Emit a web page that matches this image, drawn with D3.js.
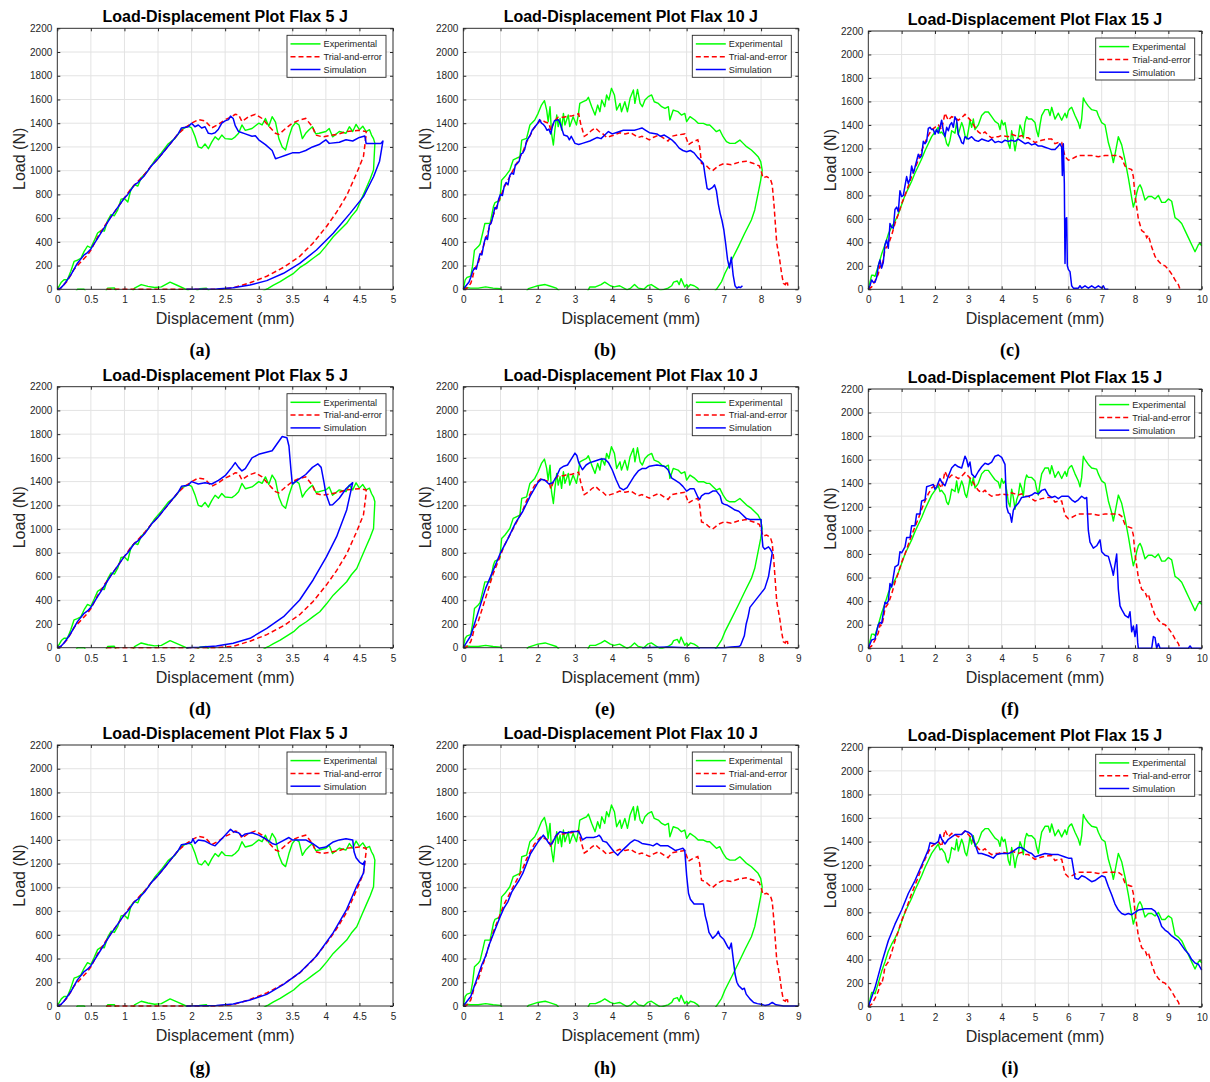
<!DOCTYPE html>
<html>
<head>
<meta charset="utf-8">
<script src="https://cdn.jsdelivr.net/npm/d3@7"></script>
<style>
  body { margin: 0; background: #fff; }
  svg { display: block; }
</style>
</head>
<body>
<script>
// ---- tick labels ----
var loadTicks = [0, 200, 400, 600, 800, 1000, 1200, 1400, 1600, 1800, 2000, 2200],
    dispTicks5  = [0, 0.5, 1, 1.5, 2, 2.5, 3, 3.5, 4, 4.5, 5],
    dispTicks10 = [0, 1, 2, 3, 4, 5, 6, 7, 8, 9],
    dispTicks15 = [0, 1, 2, 3, 4, 5, 6, 7, 8, 9, 10];

var seriesNames = ['Experimental', 'Trial-and-error', 'Simulation'];
var titles = ['Load-Displacement Plot Flax 5 J', 'Load-Displacement Plot Flax 10 J', 'Load-Displacement Plot Flax 15 J'];
var captions = ['(a)', '(b)', '(c)', '(d)', '(e)', '(f)', '(g)', '(h)', '(i)'];

// ---- series, [displacement mm, load N] ----
// 5 J
var exp5 = [[0,0],[0.03,30],[0.06,60],[0.1,80],[0.15,80],[0.2,150],[0.25,235],[0.3,245],[0.35,260],[0.4,320],[0.45,365],[0.5,350],[0.55,410],[0.6,475],[0.65,495],[0.7,490],[0.75,580],[0.8,630],[0.85,620],[0.9,670],[0.95,760],[1.0,765],[1.05,735],[1.1,850],[1.15,880],[1.2,870],[1.25,940],[1.3,970],[1.35,1000],[1.45,1085],[1.55,1150],[1.65,1225],[1.75,1270],[1.85,1345],[1.95,1375],[2.0,1360],[2.05,1290],[2.1,1200],[2.15,1190],[2.2,1225],[2.25,1185],[2.3,1240],[2.35,1285],[2.4,1260],[2.45,1300],[2.5,1270],[2.6,1265],[2.65,1285],[2.7,1315],[2.75,1385],[2.8,1340],[2.9,1355],[3.0,1400],[3.05,1385],[3.1,1440],[3.15,1375],[3.2,1455],[3.25,1410],[3.3,1270],[3.35,1200],[3.4,1175],[3.45,1285],[3.5,1370],[3.55,1405],[3.6,1385],[3.65,1270],[3.7,1315],[3.75,1345],[3.8,1370],[3.85,1310],[3.9,1315],[4.0,1330],[4.05,1355],[4.1,1285],[4.2,1330],[4.3,1315],[4.35,1370],[4.4,1330],[4.45,1390],[4.5,1345],[4.55,1375],[4.6,1330],[4.65,1345],[4.68,1300],[4.71,1270],[4.73,1230],[4.72,1120],[4.71,1005],[4.66,930],[4.61,865],[4.53,760],[4.46,668],[4.38,615],[4.31,556],[4.21,500],[4.11,443],[4.01,370],[3.91,303],[3.81,262],[3.71,219],[3.61,182],[3.52,135],[3.42,100],[3.32,64],[3.22,35],[3.14,8],[3.11,0],[3.0,-40],[2.3,-40],[2.22,10],[2.12,5],[2.02,-40],[1.92,0],[1.8,30],[1.68,60],[1.55,20],[1.45,15],[1.35,25],[1.25,40],[1.15,10],[1.1,-40],[0.9,-40],[0.85,12],[0.75,10],[0.7,-40],[0.45,-40],[0.4,0],[0.3,0],[0.25,-40]];
var trial5 = [[0,0],[0.05,10],[0.15,70],[0.25,170],[0.35,230],[0.45,290],[0.5,330],[0.6,440],[0.7,530],[0.8,610],[0.9,690],[1.0,770],[1.1,850],[1.2,910],[1.3,970],[1.4,1040],[1.5,1100],[1.6,1170],[1.7,1240],[1.8,1310],[1.9,1360],[2.0,1400],[2.1,1430],[2.2,1420],[2.3,1360],[2.4,1390],[2.5,1430],[2.6,1455],[2.65,1475],[2.7,1470],[2.75,1415],[2.85,1455],[2.95,1475],[3.05,1440],[3.15,1375],[3.25,1315],[3.3,1305],[3.4,1355],[3.5,1400],[3.6,1425],[3.7,1440],[3.8,1370],[3.85,1300],[3.95,1285],[4.1,1300],[4.2,1310],[4.3,1330],[4.5,1340],[4.6,1330],[4.6,1300],[4.56,1120],[4.46,980],[4.31,790],[4.16,650],[4.01,530],[3.81,390],[3.61,278],[3.37,185],[3.12,110],[2.87,55],[2.62,12],[2.37,0],[1.7,0],[1.2,0],[0.7,0]];
var sim5a = [[0,0],[0.05,10],[0.1,40],[0.2,120],[0.3,220],[0.4,290],[0.45,310],[0.5,340],[0.6,430],[0.7,520],[0.8,610],[0.9,690],[1.0,770],[1.05,800],[1.1,840],[1.15,880],[1.2,900],[1.3,960],[1.4,1040],[1.5,1100],[1.6,1170],[1.7,1240],[1.8,1310],[1.85,1360],[1.95,1370],[2.0,1400],[2.05,1370],[2.1,1385],[2.15,1360],[2.2,1370],[2.25,1315],[2.3,1310],[2.35,1320],[2.4,1350],[2.45,1400],[2.5,1420],[2.55,1430],[2.58,1460],[2.62,1440],[2.65,1380],[2.7,1330],[2.8,1310],[2.9,1290],[2.95,1295],[3.0,1260],[3.1,1220],[3.2,1170],[3.25,1100],[3.3,1110],[3.4,1130],[3.5,1150],[3.6,1150],[3.7,1170],[3.8,1200],[3.9,1220],[3.95,1240],[4.0,1260],[4.05,1230],[4.2,1240],[4.3,1260],[4.4,1250],[4.5,1280],[4.58,1292],[4.6,1230],[4.7,1230],[4.82,1230],[4.85,1250],[4.8,1080],[4.71,949],[4.56,781],[4.36,640],[4.11,472],[3.86,331],[3.61,219],[3.37,135],[3.12,73],[2.87,36],[2.62,14],[2.37,3],[1.92,0]];
var sim5d = [[0,0],[0.05,10],[0.1,40],[0.2,120],[0.3,220],[0.4,290],[0.45,310],[0.5,340],[0.6,430],[0.7,520],[0.8,610],[0.9,690],[1.0,770],[1.05,800],[1.1,840],[1.15,880],[1.2,900],[1.3,960],[1.4,1040],[1.5,1100],[1.6,1170],[1.7,1240],[1.8,1310],[1.85,1360],[1.95,1370],[2.0,1400],[2.1,1380],[2.2,1390],[2.3,1380],[2.4,1410],[2.5,1450],[2.6,1520],[2.65,1560],[2.7,1520],[2.75,1490],[2.8,1510],[2.9,1600],[3.0,1630],[3.1,1645],[3.2,1660],[3.3,1740],[3.35,1780],[3.42,1770],[3.45,1700],[3.48,1500],[3.5,1380],[3.55,1400],[3.6,1420],[3.7,1460],[3.8,1520],[3.88,1550],[3.93,1520],[3.97,1400],[4.0,1300],[4.06,1203],[4.1,1205],[4.2,1260],[4.3,1340],[4.4,1391],[4.31,1161],[4.16,936],[4.01,767],[3.81,571],[3.61,402],[3.37,261],[3.12,163],[2.87,79],[2.62,37],[2.37,14],[2.12,3],[1.92,0]];
var sim5g = [[0,0],[0.05,10],[0.1,40],[0.2,120],[0.3,220],[0.4,290],[0.45,310],[0.5,340],[0.6,430],[0.7,520],[0.8,610],[0.9,690],[1.0,770],[1.05,800],[1.1,840],[1.15,880],[1.2,900],[1.3,960],[1.4,1040],[1.5,1100],[1.6,1170],[1.7,1240],[1.8,1310],[1.85,1360],[1.95,1370],[2.0,1380],[2.02,1410],[2.05,1370],[2.1,1400],[2.2,1390],[2.3,1360],[2.35,1350],[2.4,1380],[2.5,1440],[2.58,1490],[2.62,1470],[2.7,1460],[2.75,1430],[2.8,1450],[2.9,1460],[3.0,1440],[3.1,1410],[3.2,1370],[3.25,1360],[3.35,1390],[3.45,1420],[3.5,1400],[3.6,1400],[3.7,1400],[3.8,1370],[3.9,1330],[4.0,1340],[4.1,1380],[4.2,1400],[4.3,1410],[4.4,1400],[4.42,1300],[4.45,1250],[4.51,1208],[4.55,1195],[4.58,1222],[4.56,1120],[4.46,1011],[4.31,815],[4.11,618],[3.86,421],[3.61,281],[3.37,183],[3.12,98],[2.87,51],[2.62,17],[2.37,5],[1.92,0]];

// 10 J
var exp10 = [[0,0],[0.05,80],[0.1,100],[0.2,110],[0.25,200],[0.3,330],[0.4,360],[0.45,380],[0.54,500],[0.58,555],[0.72,556],[0.81,697],[0.85,730],[0.98,750],[1.03,920],[1.12,950],[1.25,1005],[1.34,1090],[1.52,1118],[1.57,1258],[1.7,1272],[1.79,1385],[1.92,1427],[2.01,1483],[2.1,1553],[2.18,1590],[2.24,1511],[2.28,1413],[2.33,1539],[2.37,1315],[2.42,1216],[2.46,1343],[2.51,1469],[2.55,1371],[2.6,1441],[2.64,1343],[2.69,1483],[2.73,1385],[2.82,1469],[2.86,1371],[2.95,1455],[3.04,1385],[3.09,1469],[3.13,1567],[3.22,1581],[3.31,1595],[3.36,1618],[3.45,1539],[3.54,1469],[3.61,1553],[3.67,1497],[3.72,1595],[3.8,1539],[3.85,1638],[3.91,1595],[3.98,1694],[4.06,1638],[4.12,1511],[4.21,1567],[4.25,1497],[4.34,1581],[4.41,1497],[4.48,1610],[4.57,1680],[4.61,1567],[4.68,1685],[4.75,1567],[4.81,1539],[4.88,1595],[4.97,1624],[5.06,1638],[5.13,1581],[5.24,1567],[5.33,1539],[5.42,1525],[5.51,1539],[5.55,1427],[5.64,1511],[5.77,1497],[5.86,1469],[5.95,1483],[6.0,1413],[6.09,1455],[6.22,1427],[6.31,1399],[6.45,1399],[6.54,1385],[6.62,1385],[6.71,1357],[6.8,1329],[6.89,1343],[6.98,1286],[7.07,1244],[7.16,1230],[7.3,1230],[7.43,1258],[7.52,1230],[7.61,1202],[7.74,1174],[7.83,1146],[7.92,1118],[7.99,1076],[8.03,1005],[7.99,921],[7.92,809],[7.83,669],[7.74,584],[7.56,472],[7.39,360],[7.21,247],[7.03,135],[6.94,65],[6.85,22],[6.8,0],[6.7,-40],[6.4,-40],[6.3,10],[6.2,30],[6.1,40],[6.05,20],[6.0,40],[5.95,20],[5.85,90],[5.8,40],[5.75,70],[5.65,60],[5.6,30],[5.5,10],[5.4,0],[5.3,-10],[5.2,10],[5.05,40],[4.95,30],[4.85,0],[4.7,10],[4.6,40],[4.5,10],[4.4,-5],[4.2,30],[4.05,20],[3.95,30],[3.8,60],[3.7,40],[3.55,20],[3.4,20],[3.3,-40],[2.65,-40],[2.5,10],[2.3,30],[2.2,40],[2.0,30],[1.9,20],[1.75,5],[1.65,-40],[1.1,-40],[1.0,5],[0.8,10],[0.6,20],[0.4,10],[0.2,10],[0.05,15],[0,10]];
var trial10 = [[0,0],[0.1,10],[0.2,50],[0.25,100],[0.3,170],[0.4,220],[0.5,320],[0.6,420],[0.7,520],[0.8,620],[0.9,700],[1.0,780],[1.1,860],[1.2,920],[1.3,980],[1.4,1040],[1.5,1100],[1.6,1160],[1.7,1240],[1.8,1300],[1.9,1360],[2.0,1400],[2.1,1430],[2.2,1410],[2.3,1400],[2.35,1340],[2.45,1420],[2.55,1450],[2.7,1450],[2.8,1460],[2.9,1460],[3.0,1470],[3.1,1480],[3.15,1400],[3.25,1290],[3.35,1310],[3.45,1340],[3.55,1360],[3.65,1330],[3.75,1310],[3.85,1280],[3.95,1290],[4.05,1300],[4.2,1320],[4.35,1310],[4.5,1320],[4.6,1300],[4.7,1280],[4.8,1290],[5.0,1260],[5.1,1280],[5.25,1300],[5.4,1270],[5.5,1250],[5.6,1290],[5.75,1300],[5.95,1310],[6.05,1220],[6.15,1240],[6.3,1260],[6.35,1200],[6.4,1060],[6.5,1050],[6.6,1020],[6.7,1000],[6.85,1040],[7.0,1060],[7.2,1050],[7.4,1070],[7.6,1080],[7.8,1060],[7.95,1040],[8.0,1000],[8.05,940],[8.15,950],[8.25,930],[8.3,880],[8.35,700],[8.42,390],[8.5,250],[8.55,135],[8.6,50],[8.65,40],[8.7,70],[8.72,30]];
var sim10b = [[0,0],[0.1,40],[0.15,60],[0.2,100],[0.25,150],[0.3,180],[0.35,170],[0.4,240],[0.45,300],[0.5,290],[0.55,380],[0.6,440],[0.65,420],[0.7,540],[0.75,560],[0.8,620],[0.85,690],[0.9,680],[0.95,760],[1.0,800],[1.05,790],[1.1,870],[1.15,900],[1.2,880],[1.25,960],[1.3,980],[1.35,970],[1.4,1050],[1.45,1060],[1.5,1080],[1.55,1140],[1.6,1150],[1.65,1180],[1.7,1250],[1.8,1300],[1.85,1340],[1.9,1360],[2.0,1400],[2.05,1430],[2.1,1400],[2.15,1390],[2.2,1370],[2.25,1340],[2.3,1350],[2.35,1310],[2.4,1380],[2.45,1420],[2.55,1430],[2.6,1400],[2.65,1350],[2.7,1300],[2.8,1290],[2.85,1260],[2.9,1290],[3.0,1230],[3.1,1220],[3.2,1230],[3.4,1250],[3.6,1280],[3.7,1270],[3.8,1300],[3.9,1330],[4.0,1310],[4.1,1320],[4.2,1330],[4.3,1340],[4.4,1340],[4.6,1340],[4.7,1350],[4.8,1360],[4.9,1340],[5.0,1320],[5.2,1310],[5.3,1290],[5.4,1300],[5.5,1280],[5.6,1260],[5.7,1230],[5.8,1190],[5.9,1170],[6.0,1160],[6.1,1170],[6.2,1150],[6.3,1110],[6.4,1080],[6.45,1060],[6.5,950],[6.55,850],[6.6,840],[6.7,860],[6.75,880],[6.8,830],[6.85,720],[6.9,640],[6.95,580],[7.0,500],[7.05,380],[7.1,250],[7.15,180],[7.2,270],[7.25,120],[7.3,30],[7.35,10],[7.4,20],[7.45,15],[7.5,30]];
var sim10e = [[0,0],[0.2,100],[0.4,300],[0.6,500],[0.8,650],[1.0,800],[1.2,920],[1.4,1050],[1.6,1150],[1.8,1280],[2.0,1390],[2.1,1420],[2.2,1410],[2.3,1380],[2.4,1390],[2.5,1440],[2.6,1510],[2.7,1530],[2.8,1540],[2.9,1590],[3.0,1640],[3.05,1620],[3.1,1560],[3.2,1500],[3.3,1540],[3.4,1560],[3.5,1570],[3.6,1580],[3.7,1590],[3.8,1590],[3.9,1560],[4.0,1500],[4.1,1420],[4.2,1350],[4.3,1330],[4.4,1350],[4.5,1400],[4.6,1450],[4.7,1490],[4.8,1510],[4.9,1510],[5.0,1530],[5.2,1540],[5.4,1530],[5.5,1500],[5.6,1430],[5.7,1410],[5.8,1390],[5.9,1360],[6.0,1320],[6.1,1340],[6.2,1340],[6.3,1270],[6.35,1250],[6.4,1280],[6.5,1300],[6.6,1300],[6.7,1320],[6.8,1320],[6.9,1280],[6.95,1220],[7.0,1210],[7.1,1200],[7.2,1180],[7.3,1160],[7.4,1150],[7.5,1120],[7.6,1090],[7.7,1080],[7.8,1080],[7.9,1080],[8.0,1080],[8.02,950],[8.05,850],[8.1,830],[8.2,850],[8.25,830],[8.3,800],[8.25,700],[8.2,600],[8.1,500],[8.0,460],[7.9,420],[7.8,380],[7.7,340],[7.65,260],[7.6,200],[7.55,100],[7.5,60],[7.45,20],[7.4,10],[7.2,5],[7.0,0],[6.0,0],[5.5,5],[4.8,0]];
var sim10h = [[0,0],[0.1,40],[0.2,80],[0.3,170],[0.4,260],[0.5,350],[0.6,420],[0.7,520],[0.8,600],[0.9,680],[1.0,760],[1.1,830],[1.2,880],[1.3,960],[1.4,1010],[1.5,1060],[1.6,1120],[1.7,1200],[1.8,1280],[1.9,1330],[2.0,1380],[2.1,1420],[2.15,1440],[2.2,1420],[2.3,1370],[2.35,1360],[2.4,1380],[2.5,1440],[2.6,1470],[2.7,1460],[2.8,1460],[2.9,1470],[3.0,1470],[3.1,1470],[3.15,1440],[3.2,1400],[3.3,1420],[3.4,1420],[3.5,1420],[3.6,1430],[3.65,1440],[3.7,1420],[3.75,1390],[3.85,1380],[3.95,1340],[4.05,1300],[4.15,1270],[4.2,1290],[4.3,1320],[4.4,1350],[4.5,1380],[4.6,1400],[4.7,1390],[4.8,1370],[5.0,1360],[5.1,1350],[5.2,1370],[5.3,1350],[5.5,1350],[5.6,1330],[5.7,1310],[5.8,1320],[5.9,1330],[5.95,1310],[6.0,1100],[6.05,950],[6.1,900],[6.2,860],[6.4,860],[6.45,860],[6.5,760],[6.55,700],[6.6,620],[6.7,570],[6.8,600],[6.85,630],[6.9,590],[7.0,560],[7.1,500],[7.15,480],[7.2,530],[7.25,400],[7.3,270],[7.35,200],[7.4,170],[7.5,140],[7.55,150],[7.6,100],[7.7,60],[7.8,30],[7.9,20],[8.0,15],[8.1,5],[8.2,10],[8.3,30],[8.4,10],[8.6,0],[9.0,0]];

// 15 J
var exp15 = [[0,0],[0.05,60],[0.1,120],[0.15,120],[0.2,110],[0.3,200],[0.4,300],[0.5,380],[0.6,470],[0.7,530],[0.8,580],[0.9,640],[1.0,720],[1.1,800],[1.2,860],[1.3,920],[1.4,990],[1.5,1050],[1.6,1110],[1.7,1180],[1.8,1240],[1.9,1300],[2.0,1340],[2.1,1380],[2.15,1330],[2.2,1340],[2.3,1300],[2.35,1240],[2.4,1220],[2.45,1270],[2.5,1350],[2.6,1330],[2.65,1420],[2.7,1320],[2.8,1420],[2.85,1380],[2.9,1310],[2.95,1280],[3.0,1350],[3.05,1440],[3.1,1380],[3.15,1450],[3.2,1360],[3.3,1400],[3.4,1480],[3.5,1510],[3.6,1510],[3.7,1470],[3.8,1430],[3.9,1410],[3.95,1360],[4.0,1440],[4.05,1400],[4.1,1420],[4.15,1340],[4.2,1240],[4.25,1200],[4.3,1350],[4.35,1280],[4.4,1180],[4.45,1260],[4.5,1300],[4.55,1400],[4.6,1360],[4.65,1290],[4.7,1420],[4.75,1470],[4.8,1450],[4.9,1450],[5.0,1420],[5.05,1350],[5.1,1300],[5.15,1400],[5.2,1480],[5.3,1530],[5.4,1530],[5.45,1480],[5.5,1550],[5.6,1450],[5.7,1500],[5.8,1440],[5.9,1500],[5.95,1460],[6.0,1520],[6.05,1540],[6.1,1550],[6.2,1480],[6.3,1420],[6.35,1370],[6.4,1450],[6.45,1630],[6.5,1600],[6.6,1560],[6.7,1530],[6.85,1520],[6.9,1480],[7.0,1420],[7.05,1410],[7.1,1400],[7.2,1250],[7.3,1150],[7.35,1080],[7.4,1150],[7.5,1300],[7.6,1230],[7.7,1100],[7.8,950],[7.9,780],[7.95,700],[8.0,750],[8.05,820],[8.1,870],[8.15,890],[8.2,860],[8.3,760],[8.4,790],[8.5,790],[8.6,770],[8.7,800],[8.8,740],[8.9,740],[9.0,770],[9.1,750],[9.2,610],[9.3,590],[9.4,560],[9.5,500],[9.6,440],[9.7,380],[9.8,320],[9.9,380],[9.95,390],[10.0,370]];
var trial15 = [[0,0],[0.1,20],[0.2,70],[0.3,130],[0.35,200],[0.4,190],[0.45,250],[0.5,340],[0.6,380],[0.7,460],[0.8,560],[0.9,640],[1.0,730],[1.1,800],[1.2,880],[1.3,960],[1.4,1030],[1.5,1100],[1.6,1180],[1.7,1250],[1.8,1310],[1.9,1360],[2.0,1380],[2.1,1400],[2.2,1360],[2.3,1500],[2.4,1440],[2.5,1470],[2.6,1460],[2.7,1440],[2.8,1460],[2.9,1490],[3.0,1460],[3.1,1430],[3.2,1380],[3.3,1340],[3.4,1320],[3.5,1340],[3.6,1310],[3.7,1290],[3.8,1300],[3.9,1300],[4.0,1310],[4.2,1300],[4.3,1320],[4.4,1310],[4.5,1300],[4.6,1310],[4.7,1290],[4.8,1290],[5.0,1250],[5.1,1260],[5.2,1270],[5.4,1280],[5.5,1280],[5.6,1240],[5.7,1250],[5.8,1250],[5.9,1130],[6.0,1100],[6.1,1110],[6.3,1140],[6.5,1140],[6.7,1140],[6.9,1130],[7.1,1140],[7.3,1140],[7.5,1140],[7.6,1120],[7.7,1050],[7.8,1030],[7.9,1020],[7.95,960],[8.0,800],[8.1,600],[8.2,500],[8.3,480],[8.35,440],[8.4,460],[8.5,360],[8.6,280],[8.7,240],[8.8,210],[8.9,200],[9.0,170],[9.1,130],[9.2,80],[9.3,40],[9.35,0]];
var sim15c = [[0,0],[0.05,30],[0.1,80],[0.15,60],[0.2,60],[0.25,100],[0.3,200],[0.35,250],[0.4,180],[0.45,230],[0.5,380],[0.55,420],[0.6,350],[0.65,560],[0.7,530],[0.75,520],[0.8,680],[0.85,700],[0.9,660],[0.95,840],[1.0,790],[1.05,800],[1.1,880],[1.15,960],[1.2,900],[1.25,940],[1.3,1050],[1.35,990],[1.4,1040],[1.5,1150],[1.55,1120],[1.6,1140],[1.65,1260],[1.7,1240],[1.75,1260],[1.8,1370],[1.85,1380],[1.9,1360],[1.95,1360],[2.0,1320],[2.05,1360],[2.1,1330],[2.15,1380],[2.2,1440],[2.25,1350],[2.3,1300],[2.35,1380],[2.4,1350],[2.45,1400],[2.5,1420],[2.55,1380],[2.6,1470],[2.65,1440],[2.7,1320],[2.75,1290],[2.8,1250],[2.85,1240],[2.9,1300],[3.0,1280],[3.1,1300],[3.2,1270],[3.3,1260],[3.4,1280],[3.5,1270],[3.6,1260],[3.7,1280],[3.8,1250],[3.9,1260],[4.0,1250],[4.1,1270],[4.2,1260],[4.3,1270],[4.4,1260],[4.5,1280],[4.6,1260],[4.7,1240],[4.8,1250],[4.9,1230],[5.0,1240],[5.1,1220],[5.2,1220],[5.3,1210],[5.4,1200],[5.5,1190],[5.6,1190],[5.7,1220],[5.75,1240],[5.8,1210],[5.82,970],[5.85,1240],[5.88,900],[5.9,220],[5.92,600],[5.95,610],[5.97,200],[6.0,170],[6.05,150],[6.1,30],[6.15,10],[6.3,10],[6.35,30],[6.4,10],[6.5,30],[6.6,10],[6.7,30],[6.8,10],[6.9,30],[7.0,10],[7.05,30],[7.1,0],[7.2,0]];
var sim15f = [[0,0],[0.1,70],[0.2,80],[0.3,200],[0.35,220],[0.4,210],[0.5,390],[0.55,380],[0.6,400],[0.65,550],[0.7,520],[0.8,690],[0.85,700],[0.9,710],[0.95,820],[1.0,810],[1.1,860],[1.15,940],[1.25,940],[1.3,1040],[1.4,1040],[1.45,1140],[1.55,1140],[1.6,1250],[1.7,1260],[1.75,1370],[1.85,1380],[1.95,1390],[2.0,1350],[2.05,1370],[2.15,1440],[2.2,1410],[2.3,1380],[2.4,1460],[2.5,1530],[2.6,1560],[2.7,1540],[2.8,1530],[2.9,1630],[2.95,1600],[3.0,1540],[3.05,1580],[3.1,1480],[3.2,1450],[3.3,1500],[3.4,1540],[3.5,1570],[3.6,1560],[3.7,1580],[3.8,1630],[3.9,1640],[4.0,1620],[4.1,1560],[4.15,1200],[4.2,1150],[4.25,1140],[4.3,1070],[4.35,1170],[4.4,1200],[4.5,1230],[4.6,1280],[4.8,1290],[4.9,1300],[5.0,1320],[5.1,1310],[5.2,1340],[5.3,1350],[5.4,1300],[5.5,1280],[5.6,1290],[5.7,1270],[5.8,1290],[6.0,1290],[6.1,1260],[6.2,1240],[6.3,1260],[6.4,1290],[6.5,1270],[6.55,1280],[6.6,1000],[6.65,900],[6.75,850],[6.85,870],[6.95,920],[7.0,820],[7.1,790],[7.2,780],[7.3,680],[7.35,620],[7.45,800],[7.5,500],[7.55,360],[7.6,330],[7.7,280],[7.8,260],[7.85,310],[7.9,140],[7.95,190],[8.0,100],[8.05,200],[8.08,50],[8.1,0],[8.5,0],[8.55,100],[8.6,90],[8.65,0],[8.7,40],[8.75,0],[9.6,0],[9.65,20],[9.7,0],[10,0]];
var sim15i = [[0,0],[0.2,160],[0.4,370],[0.6,560],[0.8,700],[1.0,820],[1.2,960],[1.4,1070],[1.6,1200],[1.8,1330],[1.85,1390],[2.0,1380],[2.1,1400],[2.15,1460],[2.2,1420],[2.3,1380],[2.4,1420],[2.6,1460],[2.8,1460],[2.9,1490],[3.0,1480],[3.1,1460],[3.2,1380],[3.3,1300],[3.4,1300],[3.6,1280],[3.75,1260],[3.85,1290],[4.0,1300],[4.2,1300],[4.3,1310],[4.4,1330],[4.5,1350],[4.6,1350],[4.7,1330],[4.8,1310],[4.9,1300],[5.0,1270],[5.1,1280],[5.3,1300],[5.5,1290],[5.7,1290],[5.9,1270],[6.0,1260],[6.1,1260],[6.2,1090],[6.3,1080],[6.4,1110],[6.5,1100],[6.6,1080],[6.7,1060],[6.8,1070],[6.9,1090],[7.0,1110],[7.1,1100],[7.2,1020],[7.3,950],[7.4,870],[7.5,820],[7.6,790],[7.7,780],[7.8,790],[7.9,780],[8.0,800],[8.1,820],[8.3,830],[8.5,830],[8.6,810],[8.7,760],[8.8,680],[8.9,650],[9.0,630],[9.1,600],[9.2,580],[9.3,560],[9.4,520],[9.5,480],[9.6,450],[9.7,400],[9.8,370],[9.9,360],[10.0,310]];

// ---- panel layout (plot box: left, right, top, bottom) ----
var panels = [
  { exp: exp5,  trial: trial5,  sim: sim5a,  xmax: 5,  xticks: dispTicks5,  col: 0, box: [57.3, 393, 28.3, 289.3] },
  { exp: exp10, trial: trial10, sim: sim10b, xmax: 9,  xticks: dispTicks10, col: 1, box: [463.3, 798.3, 28.3, 289.3] },
  { exp: exp15, trial: trial15, sim: sim15c, xmax: 10, xticks: dispTicks15, col: 2, box: [868.3, 1201.7, 31, 289.3] },
  { exp: exp5,  trial: trial5,  sim: sim5d,  xmax: 5,  xticks: dispTicks5,  col: 0, box: [57.3, 393, 386.7, 647.7] },
  { exp: exp10, trial: trial10, sim: sim10e, xmax: 9,  xticks: dispTicks10, col: 1, box: [463.3, 798.3, 386.7, 647.7] },
  { exp: exp15, trial: trial15, sim: sim15f, xmax: 10, xticks: dispTicks15, col: 2, box: [868.3, 1201.7, 389, 648.3] },
  { exp: exp5,  trial: trial5,  sim: sim5g,  xmax: 5,  xticks: dispTicks5,  col: 0, box: [57.3, 393, 745, 1006] },
  { exp: exp10, trial: trial10, sim: sim10h, xmax: 9,  xticks: dispTicks10, col: 1, box: [463.3, 798.3, 745, 1006] },
  { exp: exp15, trial: trial15, sim: sim15i, xmax: 10, xticks: dispTicks15, col: 2, box: [868.3, 1201.7, 747.3, 1006.7] }
];
var captionX = [200, 605, 1010],
    captionY = [355.5, 714.5, 1073.5];

var axisColor = '#262626',
    gridColor = '#e3e3e3',
    sans = '"Liberation Sans", Arial, Helvetica, sans-serif';

var svg = d3.select('body').append('svg')
    .attr('width', 1210)
    .attr('height', 1082);

function drawPanel(p, i) {
    var w = p.box[1] - p.box[0],
        h = p.box[3] - p.box[2];

    var x = d3.scaleLinear().domain([0, p.xmax]).range([0, w]);
    var y = d3.scaleLinear().domain([0, 2200]).range([h, 0]);

    var g = svg.append('g')
        .attr('transform', 'translate(' + p.box[0] + ',' + p.box[2] + ')');

    // grid
    g.append('g').selectAll('line').data(p.xticks).enter().append('line')
        .attr('x1', function(d) { return x(d); }).attr('x2', function(d) { return x(d); })
        .attr('y1', 0).attr('y2', h)
        .attr('stroke', gridColor).attr('stroke-width', 1);
    g.append('g').selectAll('line').data(loadTicks).enter().append('line')
        .attr('y1', function(d) { return y(d); }).attr('y2', function(d) { return y(d); })
        .attr('x1', 0).attr('x2', w)
        .attr('stroke', gridColor).attr('stroke-width', 1);

    // curves
    var clipId = 'clip' + i;
    g.append('clipPath').attr('id', clipId)
        .append('rect').attr('x', -1).attr('y', -1).attr('width', w + 2).attr('height', h + 2);

    var line = d3.line()
        .x(function(d) { return x(d[0]); })
        .y(function(d) { return y(d[1]); });

    var plot = g.append('g').attr('clip-path', 'url(#' + clipId + ')');
    plot.append('path').datum(p.exp).attr('d', line)
        .attr('fill', 'none').attr('stroke', '#00ff00').attr('stroke-width', 1.4).attr('stroke-linejoin', 'round');
    plot.append('path').datum(p.trial).attr('d', line)
        .attr('fill', 'none').attr('stroke', '#ff0000').attr('stroke-width', 1.5).attr('stroke-dasharray', '5,3');
    plot.append('path').datum(p.sim).attr('d', line)
        .attr('fill', 'none').attr('stroke', '#0000ff').attr('stroke-width', 1.5).attr('stroke-linejoin', 'round');

    // axes (ticks inward on all four sides)
    function style(sel) {
        sel.select('.domain').remove();
        sel.selectAll('line').attr('stroke', axisColor);
        sel.selectAll('text').attr('fill', axisColor).attr('font-family', sans).attr('font-size', 10);
    }
    g.append('g').attr('transform', 'translate(0,' + h + ')')
        .call(d3.axisBottom(x).tickValues(p.xticks).tickFormat(function(d) { return d; })
            .tickSizeInner(-3).tickSizeOuter(0).tickPadding(7))
        .call(style);
    g.append('g')
        .call(d3.axisTop(x).tickValues(p.xticks).tickFormat('').tickSizeInner(-3).tickSizeOuter(0))
        .call(style);
    g.append('g')
        .call(d3.axisLeft(y).tickValues(loadTicks).tickFormat(function(d) { return d; })
            .tickSizeInner(-3).tickSizeOuter(0).tickPadding(5))
        .call(style);
    g.append('g').attr('transform', 'translate(' + w + ',0)')
        .call(d3.axisRight(y).tickValues(loadTicks).tickFormat('').tickSizeInner(-3).tickSizeOuter(0))
        .call(style);

    g.append('rect').attr('width', w).attr('height', h)
        .attr('fill', 'none').attr('stroke', axisColor).attr('stroke-width', 0.9);

    // legend
    var lw = 99, lh = 42;
    var lg = g.append('g').attr('transform', 'translate(' + (w - 7 - lw) + ',7)');
    lg.append('rect').attr('width', lw).attr('height', lh)
        .attr('fill', '#fff').attr('stroke', axisColor).attr('stroke-width', 0.9);
    var styles = [
        { color: '#00ff00', dash: null },
        { color: '#ff0000', dash: '5,3' },
        { color: '#0000ff', dash: null }
    ];
    seriesNames.forEach(function(name, k) {
        var ly = 8.6 + k * 12.8;
        lg.append('line')
            .attr('x1', 3.5).attr('x2', 33.5).attr('y1', ly).attr('y2', ly)
            .attr('stroke', styles[k].color).attr('stroke-width', 1.5)
            .attr('stroke-dasharray', styles[k].dash);
        lg.append('text')
            .attr('x', 36.5).attr('y', ly + 3.3)
            .attr('font-family', sans).attr('font-size', 9.2).attr('fill', axisColor)
            .text(name);
    });

    // title and axis labels
    g.append('text')
        .attr('x', w / 2).attr('y', -6)
        .attr('text-anchor', 'middle')
        .attr('font-family', sans).attr('font-size', 16).attr('font-weight', 'bold').attr('fill', '#000')
        .text(titles[p.col]);
    g.append('text')
        .attr('x', w / 2).attr('y', h + 35)
        .attr('text-anchor', 'middle')
        .attr('font-family', sans).attr('font-size', 16).attr('fill', axisColor)
        .text('Displacement (mm)');
    g.append('text')
        .attr('transform', 'translate(-32,' + (h / 2) + ') rotate(-90)')
        .attr('text-anchor', 'middle')
        .attr('font-family', sans).attr('font-size', 16).attr('fill', axisColor)
        .text('Load (N)');

    // sub-figure caption
    svg.append('text')
        .attr('x', captionX[p.col]).attr('y', captionY[Math.floor(i / 3)])
        .attr('text-anchor', 'middle')
        .attr('font-family', '"Liberation Serif", "Times New Roman", serif')
        .attr('font-size', 18).attr('font-weight', 'bold').attr('fill', '#000')
        .text(captions[i]);
}

panels.forEach(drawPanel);
</script>
</body>
</html>
